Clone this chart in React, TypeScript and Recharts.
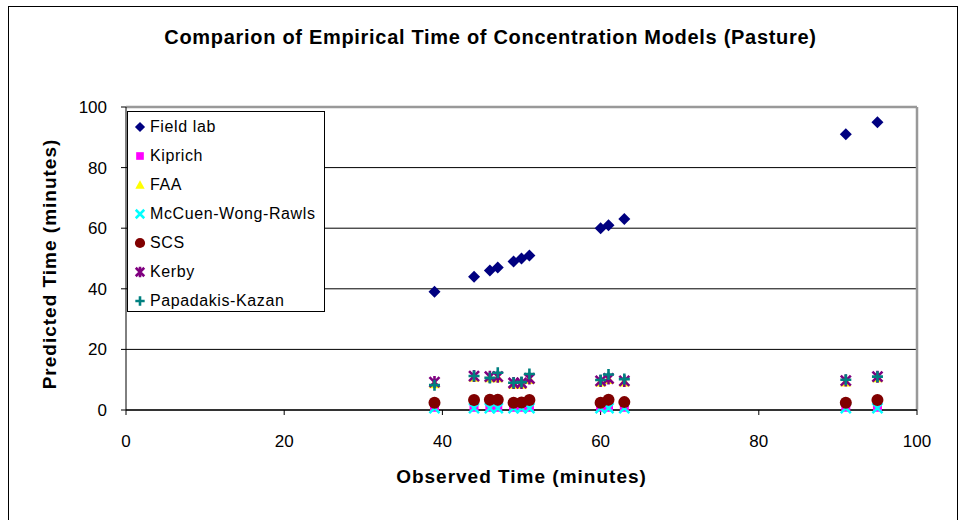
import React from 'react';
import { ScatterChart, Scatter, XAxis, YAxis, CartesianGrid, ReferenceLine, Legend } from 'recharts';

const observed = [39, 44, 46, 47, 49, 50, 51, 60, 61, 63, 91, 95];
const fieldLab = [39, 44, 46, 47, 49, 50, 51, 60, 61, 63, 91, 95];
const kiprich = [0.9, 0.9, 0.9, 0.9, 0.9, 0.9, 0.9, 0.9, 0.9, 0.9, 0.9, 0.9];
const faa = [8.6, 10.8, 10.6, 10.6, 8.5, 8.5, 10.0, 9.2, 10.0, 9.2, 9.2, 10.6];
const mccuen = [0.6, 0.6, 0.6, 0.6, 0.6, 0.6, 0.6, 0.6, 0.6, 0.6, 0.6, 0.6];
const scs = [2.4, 3.3, 3.4, 3.4, 2.4, 2.5, 3.3, 2.4, 3.4, 2.6, 2.4, 3.3];
const kerby = [9.2, 11.2, 11, 11, 8.9, 8.9, 10.4, 9.6, 10.4, 9.6, 9.7, 11];
const papadakis = [8.2, 11.2, 10.6, 12.3, 9.0, 9.2, 11.9, 9.9, 11.7, 10.2, 10.0, 11.0];

const xTicks = [0, 20, 40, 60, 80, 100];
const yTicks = [0, 20, 40, 60, 80, 100];

const FONT = '"Liberation Sans", Arial, sans-serif';

type P = { cx?: number; cy?: number; s?: number };

const Diamond = ({ cx = 0, cy = 0, s = 1 }: P) => {
  const r = 6 * s;
  return <path d={`M${cx},${cy - r}L${cx + r},${cy}L${cx},${cy + r}L${cx - r},${cy}Z`} fill="#000080" />;
};
const Square = ({ cx = 0, cy = 0, s = 1 }: P) => {
  const r = 4.5 * s;
  return <rect x={cx - r} y={cy - r} width={2 * r} height={2 * r} fill="#FF00FF" />;
};
const Triangle = ({ cx = 0, cy = 0, s = 1 }: P) => {
  const r = 5.5 * s;
  return <path d={`M${cx},${cy - r}L${cx + r},${cy + r * 0.8}L${cx - r},${cy + r * 0.8}Z`} fill="#FFFF00" />;
};
const Cross = ({ cx = 0, cy = 0, s = 1 }: P) => {
  const r = 5 * s;
  return (
    <path d={`M${cx - r},${cy - r}L${cx + r},${cy + r}M${cx + r},${cy - r}L${cx - r},${cy + r}`} stroke="#00FFFF" strokeWidth={2.5} fill="none" />
  );
};
const Circle = ({ cx = 0, cy = 0, s = 1 }: P) => <circle cx={cx} cy={cy} r={6 * s} fill="#800000" />;
const Star = ({ cx = 0, cy = 0, s = 1 }: P) => {
  const r = 5 * s;
  return (
    <path
      d={`M${cx - r},${cy - r}L${cx + r},${cy + r}M${cx + r},${cy - r}L${cx - r},${cy + r}M${cx},${cy - r - 1}L${cx},${cy + r + 1}`}
      stroke="#800080"
      strokeWidth={2.6}
      fill="none"
    />
  );
};
const Plus = ({ cx = 0, cy = 0, s = 1 }: P) => {
  const r = 5.5 * s;
  return (
    <path d={`M${cx - r},${cy}L${cx + r},${cy}M${cx},${cy - r}L${cx},${cy + r}`} stroke="#008080" strokeWidth={2.6} fill="none" />
  );
};

const series = [
  { name: 'Field lab', values: fieldLab, Marker: Diamond },
  { name: 'Kiprich', values: kiprich, Marker: Square },
  { name: 'FAA', values: faa, Marker: Triangle },
  { name: 'McCuen-Wong-Rawls', values: mccuen, Marker: Cross },
  { name: 'SCS', values: scs, Marker: Circle },
  { name: 'Kerby', values: kerby, Marker: Star },
  { name: 'Papadakis-Kazan', values: papadakis, Marker: Plus },
];

const LegendBox = () => (
  <div
    style={{
      width: 198,
      height: 201,
      border: '1px solid #000',
      background: '#fff',
      fontFamily: FONT,
      fontSize: 16,
      letterSpacing: 0.6,
      boxSizing: 'border-box',
      paddingTop: 0,
    }}
  >
    {series.map((s) => (
      <div key={s.name} style={{ display: 'flex', alignItems: 'center', height: 29, color: '#000' }}>
        <svg width={20} height={16} style={{ flex: 'none' }}>
          <s.Marker cx={12} cy={8} s={0.85} />
        </svg>
        <span style={{ marginLeft: 2 }}>{s.name}</span>
      </div>
    ))}
  </div>
);

export default function App() {
  return (
    <div style={{ position: 'absolute', left: 0, top: 0, width: 959, height: 520, background: '#fff', fontFamily: FONT }}>
      <div
        style={{
          position: 'absolute',
          left: 8,
          top: 6,
          width: 950,
          height: 530,
          border: '1px solid #000',
          boxSizing: 'border-box',
        }}
      />
      <ScatterChart
        width={959}
        height={520}
        margin={{ top: 107, right: 42, bottom: 80, left: 66 }}
        style={{ position: 'absolute', left: 0, top: 0 }}
      >
        <CartesianGrid vertical={false} stroke="#000" strokeWidth={1} />
        <ReferenceLine y={100} stroke="#999" strokeWidth={2.5} />
        <ReferenceLine x={100} stroke="#999" strokeWidth={2.5} />
        <XAxis
          type="number"
          dataKey="x"
          domain={[0, 100]}
          ticks={xTicks}
          height={30}
          tickSize={5}
          tickMargin={20}
          axisLine={{ stroke: '#333', strokeWidth: 2 }}
          tickLine={{ stroke: '#000' }}
          tick={{ fill: '#000', fontSize: 17, fontFamily: FONT }}
        />
        <YAxis
          type="number"
          dataKey="y"
          domain={[0, 100]}
          ticks={yTicks}
          width={60}
          tickSize={5}
          tickMargin={14}
          axisLine={{ stroke: '#000' }}
          tickLine={{ stroke: '#000' }}
          tick={{ fill: '#000', fontSize: 17, fontFamily: FONT }}
        />
        {series.map((s) => (
          <Scatter
            key={s.name}
            name={s.name}
            data={observed.map((x, i) => ({ x, y: s.values[i] }))}
            shape={(p: any) => <s.Marker cx={p.cx} cy={p.cy} />}
            isAnimationActive={false}
          />
        ))}
        <Legend
          layout="vertical"
          align="center"
          verticalAlign="middle"
          content={() => <LegendBox />}
          wrapperStyle={{ position: 'absolute', left: 127, top: 111, width: 198, height: 201 }}
        />
      </ScatterChart>
      <div
        style={{
          position: 'absolute',
          left: 8,
          width: 965,
          top: 26,
          textAlign: 'center',
          fontWeight: 'bold',
          fontSize: 20,
          letterSpacing: 0.7,
          color: '#000',
        }}
      >
        Comparion of Empirical Time of Concentration Models (Pasture)
      </div>
      <div
        style={{
          position: 'absolute',
          left: 126,
          width: 791,
          top: 466,
          textAlign: 'center',
          fontWeight: 'bold',
          fontSize: 19,
          letterSpacing: 1,
          color: '#000',
        }}
      >
        Observed Time (minutes)
      </div>
      <div
        style={{
          position: 'absolute',
          left: 50,
          top: 264,
          width: 300,
          marginLeft: -150,
          marginTop: -11,
          textAlign: 'center',
          fontWeight: 'bold',
          fontSize: 19,
          letterSpacing: 1,
          color: '#000',
          transform: 'rotate(-90deg)',
          lineHeight: '22px',
        }}
      >
        Predicted Time (minutes)
      </div>
    </div>
  );
}
